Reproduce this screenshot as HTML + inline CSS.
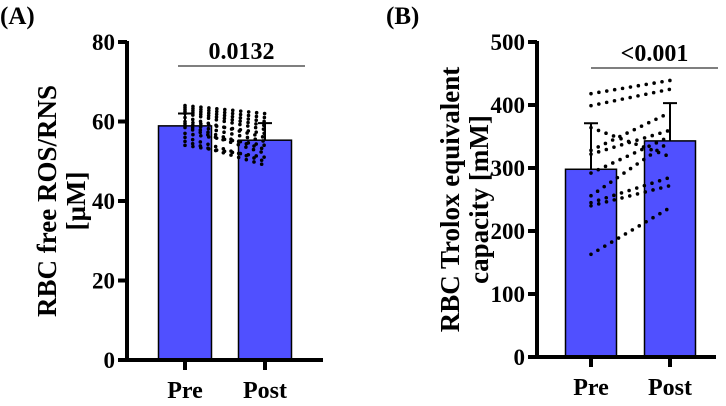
<!DOCTYPE html>
<html><head><meta charset="utf-8"><style>
body{margin:0;background:#fff}
svg text{font-family:"Liberation Serif",serif;font-weight:bold;fill:#000}
</style></head><body>
<svg id="c" width="726" height="401" viewBox="0 0 726 401" xmlns="http://www.w3.org/2000/svg"></svg>
<script>
const categories=["Pre","Post"];
const aMeans=[58.9,55.3];
const aErr=[62,59.6];
const aPre=[64,63.5,63,62.5,62,61,60,59.5,59,58.5,57,56,55,54];
const aPost=[62,61,60,59,58,56,57,55,53,52,54,50,49,51];
const aTicks=[0,20,40,60,80];
const bMeans=[298,343];
const bErr=[371,403];
const bPre=[418,399,364,328,322,292,256,245,240,163];
const bPost=[439,425,318,388,360,350,342,285,272,237];
const bTicks=[0,100,200,300,400,500];
const NS="http://www.w3.org/2000/svg";
const svg=document.getElementById('c');
function mk(t,a,p){const e=document.createElementNS(NS,t);for(const k in a)e.setAttribute(k,a[k]);(p||svg).appendChild(e);return e;}
function panel(cfg){
 const g=mk('g',{});
 
 
 const y=v=>cfg.y0-(v/cfg.max)*(cfg.y0-cfg.y1);
 cfg.means.forEach((m,i)=>{
  const cx=cfg.xs[i];
  const r=mk('rect',{x:cx-cfg.bw/2,y:y(m),width:cfg.bw,height:cfg.y0-y(m),fill:'#5050ff',stroke:'#000','stroke-width':1.5},g);
  
  
  const e=mk('path',{d:`M${cx},${y(m)}V${y(cfg.err[i])}M${cx-7},${y(cfg.err[i])}H${cx+7}`,stroke:'#000','stroke-width':2,fill:'none'},g);
  
  
 });
 cfg.pre.forEach((v,i)=>{
  const l=mk('line',{x1:cfg.xs[0],y1:y(v),x2:cfg.xs[1],y2:y(cfg.post[i]),stroke:'#000','stroke-width':3.6,'stroke-dasharray':'0 8','stroke-linecap':'round'},g);
  
  
 });
 const ax=mk('path',{d:`M${cfg.ax},${cfg.y1-1}V${cfg.y0}H${cfg.xend}`,stroke:'#000','stroke-width':4,fill:'none'},g);
 
 
 cfg.ticks.forEach(t=>{
  mk('line',{x1:cfg.ax-9,x2:cfg.ax,y1:y(t),y2:y(t),stroke:'#000','stroke-width':4},g);
  const tx=mk('text',{x:cfg.ax-12,y:y(t)+8,'text-anchor':'end','font-size':23},g);
  tx.textContent=t;
  
  
 });
 categories.forEach((c,i)=>{
  mk('line',{x1:cfg.xs[i],x2:cfg.xs[i],y1:cfg.y0,y2:cfg.y0+10,stroke:'#000','stroke-width':4},g);
  const tx=mk('text',{x:cfg.xs[i],y:cfg.y0+38,'text-anchor':'middle','font-size':24},g);
  tx.textContent=c;
  
  
 });
 const sl=mk('line',{x1:cfg.sig[0],x2:cfg.sig[1],y1:cfg.sigY,y2:cfg.sigY,stroke:'#333','stroke-width':1.3},g);
 
 
 const st=mk('text',{x:(cfg.sig[0]+cfg.sig[1])/2,y:cfg.sigY-7,'text-anchor':'middle','font-size':24},g);
 st.textContent=cfg.p;
 
 
 const yt=mk('text',{transform:`translate(${cfg.tx},${(cfg.y0+cfg.y1)/2}) rotate(-90)`,'text-anchor':'middle','font-size':27},g);
 cfg.title.forEach((s,i)=>{const ts=mk('tspan',{x:0,dy:i?29:0},yt);ts.textContent=s;});
 
 
 const lb=mk('text',{x:cfg.lx,y:24,'font-size':25},g);
 lb.textContent=cfg.label;
 
 
}
panel({name:'panel-a',means:aMeans,err:aErr,pre:aPre,post:aPost,ticks:aTicks,max:80,y0:360,y1:42,ax:127,xend:323,xs:[185,265],bw:53,sig:[178,305],sigY:66,p:'0.0132',title:['RBC free  ROS/RNS','[µM]'],tx:56,lx:0,label:'(A)'});
panel({name:'panel-b',means:bMeans,err:bErr,pre:bPre,post:bPost,ticks:bTicks,max:500,y0:357,y1:42,ax:537,xend:716,xs:[591,670],bw:51,sig:[591,718],sigY:68,p:'<0.001',title:['RBC Trolox equivalent','capacity [mM]'],tx:459,lx:386,label:'(B)'});
</script>
</body></html>
